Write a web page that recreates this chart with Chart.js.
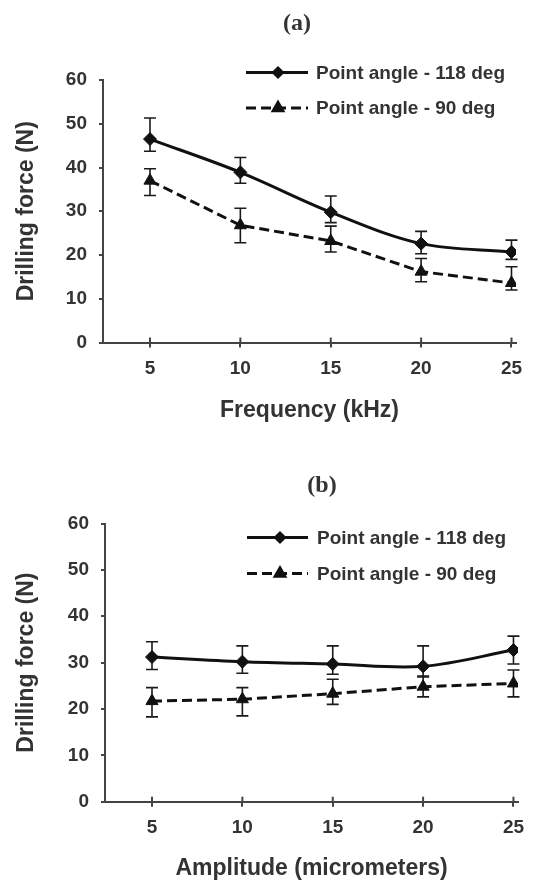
<!DOCTYPE html>
<html><head><meta charset="utf-8">
<script src="https://cdn.jsdelivr.net/npm/chart.js@4.4.1/dist/chart.umd.min.js"></script>
<style>
html,body{margin:0;padding:0;background:#fff;}
#wrap{position:relative;width:536px;height:882px;background:#fff;}
canvas{position:absolute;left:0;}
</style></head><body>
<div id="wrap">
<canvas id="ca" width="536" height="440" style="top:0px"></canvas>
<canvas id="cb" width="536" height="442" style="top:440px"></canvas>
</div>
<script>
// ---- data ----
const xValues = [5, 10, 15, 20, 25];
const xTicks = [5, 10, 15, 20, 25];
const seriesNames = ['Point angle - 118 deg', 'Point angle - 90 deg'];

// (a) Frequency
const freq118 = [46.5, 38.9, 29.8, 22.6, 20.7];
const freq118Hi = [51.3, 42.3, 33.5, 25.4, 23.4];
const freq118Lo = [43.7, 36.4, 27.4, 20.3, 19.0];
const freq90 = [37.0, 26.8, 23.2, 16.2, 13.6];
const freq90Hi = [39.7, 30.7, 26.6, 19.2, 17.3];
const freq90Lo = [33.6, 22.8, 20.7, 13.9, 12.0];

// (b) Amplitude
const amp118 = [31.2, 30.2, 29.7, 29.2, 32.7];
const amp118Hi = [34.5, 33.6, 33.6, 33.6, 35.7];
const amp118Lo = [28.5, 27.7, 27.5, 26.9, 29.7];
const amp90 = [21.7, 22.1, 23.3, 24.8, 25.5];
const amp90Hi = [24.6, 24.6, 26.4, 27.1, 28.4];
const amp90Lo = [18.3, 18.5, 21.0, 22.6, 22.6];

const panelTitles = ['(a)', '(b)'];
const xTitles = ['Frequency (kHz)', 'Amplitude (micrometers)'];
const yTitle = 'Drilling force (N)';

// ---- styling ----
const FONT = "'Liberation Sans', Arial, sans-serif";
const TEXT = '#333';
const AXIS = '#444';
Chart.defaults.font.family = FONT;
Chart.defaults.color = TEXT;

const errorBarPlugin = {
  id: 'errorBars',
  beforeDatasetsDraw(chart) {
    const ctx = chart.ctx, xs = chart.scales.x, ys = chart.scales.y;
    ctx.save();
    ctx.strokeStyle = '#1a1a1a';
    ctx.lineWidth = 1.6;
    chart.data.datasets.forEach(ds => {
      ds.data.forEach((p, i) => {
        const x = xs.getPixelForValue(p.x);
        const yh = ys.getPixelForValue(ds.errHi[i]);
        const yl = ys.getPixelForValue(ds.errLo[i]);
        ctx.beginPath();
        ctx.moveTo(x, yh); ctx.lineTo(x, yl);
        ctx.moveTo(x - 6, yh); ctx.lineTo(x + 6, yh);
        ctx.moveTo(x - 6, yl); ctx.lineTo(x + 6, yl);
        ctx.stroke();
      });
    });
    ctx.restore();
  },
  afterDraw(chart) {
    // inner half of the cross tick marks on x axis
    const ctx = chart.ctx, xs = chart.scales.x;
    ctx.save();
    ctx.strokeStyle = AXIS; ctx.lineWidth = 2;
    xs.ticks.forEach(t => {
      const x = xs.getPixelForValue(t.value);
      ctx.beginPath(); ctx.moveTo(x, xs.top); ctx.lineTo(x, xs.top - 5); ctx.stroke();
    });
    ctx.restore();
  }
};

const lineLegendPlugin = {
  id: 'lineLegend',
  afterDraw(chart, args, o) {
    const ctx = chart.ctx;
    chart.data.datasets.forEach((ds, i) => {
      const y = o.rows[i];
      ctx.save();
      ctx.strokeStyle = ds.borderColor;
      ctx.lineWidth = ds.borderWidth;
      ctx.setLineDash(ds.borderDash || []);
      ctx.beginPath(); ctx.moveTo(o.x0, y); ctx.lineTo(o.x1, y); ctx.stroke();
      ctx.setLineDash([]);
      ctx.fillStyle = ds.pointBackgroundColor;
      ctx.strokeStyle = ds.pointBorderColor;
      Chart.helpers.drawPoint(ctx, {pointStyle: ds.pointStyle, radius: o.markerRadius[i], borderWidth: 1, rotation: 0}, o.xm, y);
      ctx.fillStyle = TEXT;
      ctx.font = 'bold 19px ' + FONT;
      ctx.textBaseline = 'middle';
      ctx.textAlign = 'left';
      ctx.fillText(ds.label, o.tx, y + 1);
      ctx.restore();
    });
  }
};

const panelTitlePlugin = {
  id: 'panelTitle',
  afterDraw(chart, args, o) {
    const ctx = chart.ctx;
    ctx.save();
    ctx.fillStyle = TEXT;
    ctx.font = "bold 24px 'Liberation Serif', 'Times New Roman', serif";
    ctx.textAlign = 'center';
    ctx.textBaseline = 'middle';
    ctx.fillText(o.text, o.x, o.y);
    ctx.restore();
  }
};

function makeChart(id, d118, hi118, lo118, d90, hi90, lo90, g) {
  return new Chart(document.getElementById(id), {
    type: 'line',
    data: {
      datasets: [
        {
          label: seriesNames[0],
          data: xValues.map((x, i) => ({x, y: d118[i]})),
          errHi: hi118, errLo: lo118,
          borderColor: '#111', borderWidth: 3, tension: 0.35,
          pointStyle: 'rectRot', pointRadius: 6.5,
          pointBackgroundColor: '#111', pointBorderColor: '#111', pointBorderWidth: 1
        },
        {
          label: seriesNames[1],
          data: xValues.map((x, i) => ({x, y: d90[i]})),
          errHi: hi90, errLo: lo90,
          borderColor: '#111', borderWidth: 3, borderDash: [10, 5], tension: 0,
          pointStyle: 'triangle', pointRadius: 7,
          pointBackgroundColor: '#111', pointBorderColor: '#111', pointBorderWidth: 1
        }
      ]
    },
    options: {
      responsive: false, animation: false, devicePixelRatio: 1,
      layout: {padding: {left: 0, right: g.padRight, top: g.padTop, bottom: 0}},
      plugins: {
        legend: {display: false}, tooltip: {enabled: false},
        lineLegend: g.legend,
        panelTitle: g.title
      },
      scales: {
        x: {
          type: 'linear', min: 2.4, max: 25.25,
          afterBuildTicks: s => { s.ticks = xTicks.map(v => ({value: v})); },
          afterFit: s => { s.height = g.xHeight; },
          grid: {drawOnChartArea: false, tickLength: 5, color: AXIS, lineWidth: 2},
          border: {color: AXIS, width: 2},
          ticks: {font: {size: 19, weight: 'bold'}, color: TEXT, padding: g.xTickPad, maxRotation: 0},
          title: {display: true, text: g.xTitle, font: {size: 23, weight: 'bold'}, color: TEXT, padding: {top: 0, bottom: g.xTitlePad}}
        },
        y: {
          min: 0, max: 60,
          afterFit: s => { s.width = g.yWidth; },
          grid: {drawOnChartArea: false, tickLength: 4, color: AXIS, lineWidth: 2},
          border: {color: AXIS, width: 2},
          ticks: {stepSize: 10, font: {size: 19, weight: 'bold'}, color: TEXT, padding: 12},
          title: {display: true, text: yTitle, font: {size: 23, weight: 'bold'}, color: TEXT, padding: {top: 13, bottom: 0}}
        }
      }
    },
    plugins: [errorBarPlugin, lineLegendPlugin, panelTitlePlugin]
  });
}

makeChart('ca', freq118, freq118Hi, freq118Lo, freq90, freq90Hi, freq90Lo, {
  padRight: 20, padTop: 80, xHeight: 97.5, yWidth: 103, xTickPad: 9.5, xTitlePad: 16,
  xTitle: xTitles[0],
  legend: {rows: [72.5, 108], x0: 246, x1: 308, xm: 278, tx: 316, markerRadius: [4.5, 5.5]},
  title: {text: panelTitles[0], x: 297, y: 24}
});
makeChart('cb', amp118, amp118Hi, amp118Lo, amp90, amp90Hi, amp90Lo, {
  padRight: 18, padTop: 83.5, xHeight: 80.3, yWidth: 105, xTickPad: 10, xTitlePad: 0,
  xTitle: xTitles[1],
  legend: {rows: [537.5 - 440, 573.5 - 440], x0: 247, x1: 308, xm: 280, tx: 317, markerRadius: [4.5, 5.5]},
  title: {text: panelTitles[1], x: 322, y: 46}
});
</script>
</body></html>
